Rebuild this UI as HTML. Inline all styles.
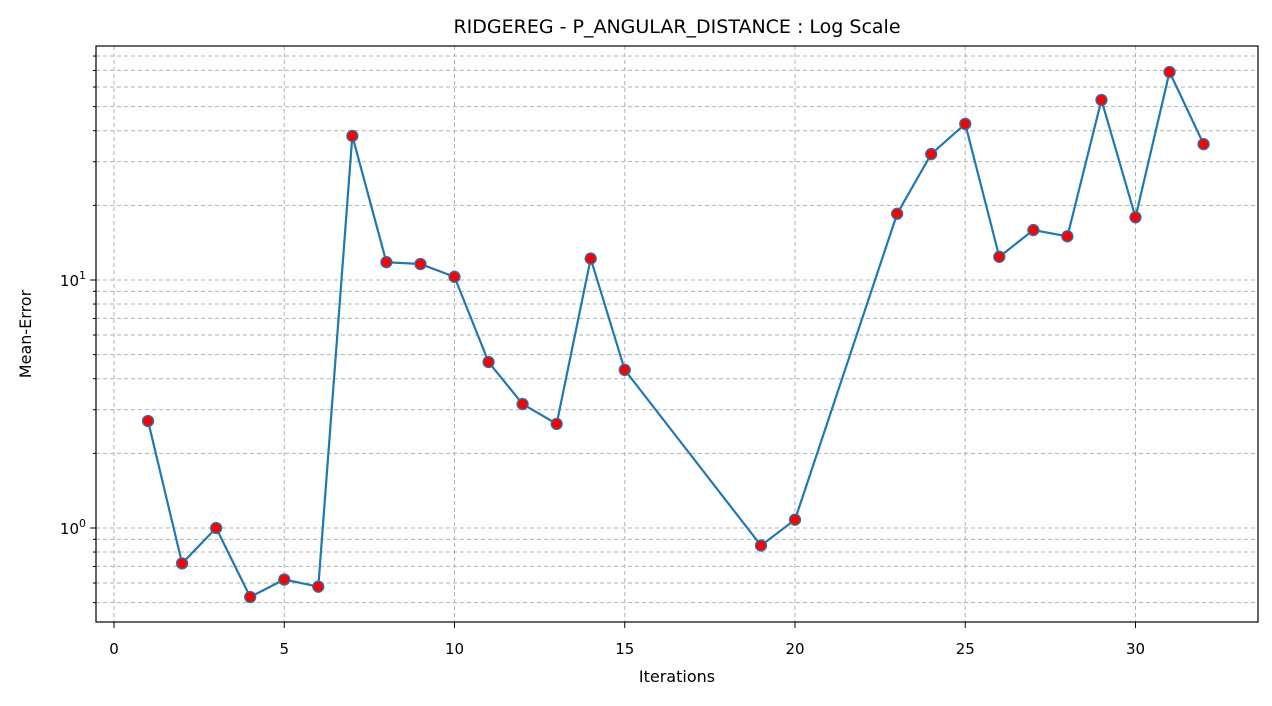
<!DOCTYPE html>
<html><head><meta charset="utf-8"><style>
body{margin:0;background:#fff;font-family:"Liberation Sans","DejaVu Sans",sans-serif;}
svg text{font-family:"DejaVu Sans","Liberation Sans",sans-serif;}
</style></head><body>
<svg id="chart" width="1272" height="701" xmlns="http://www.w3.org/2000/svg">
<rect width="1272" height="701" fill="#fff"/>
<g id="grid"></g>
<g id="series"></g>
<g id="axes"></g>
<text x="677" y="33" text-anchor="middle" font-size="19" fill="#000">RIDGEREG - P_ANGULAR_DISTANCE : Log Scale</text>
<text x="677" y="682" text-anchor="middle" font-size="16" fill="#000">Iterations</text>
<text transform="translate(31,334) rotate(-90)" text-anchor="middle" font-size="16" fill="#000">Mean-Error</text>
</svg>
<script>
const iterations=[1,2,3,4,5,6,7,8,9,10,11,12,13,14,15,19,20,23,24,25,26,27,28,29,30,31,32];
const meanError=[2.70,0.72,1.0,0.527,0.62,0.58,38.1,11.8,11.6,10.3,4.67,3.16,2.63,12.2,4.34,0.85,1.08,18.5,32.2,42.6,12.4,15.9,15.0,53.2,17.9,69,35.3];
const xTicks=[0,5,10,15,20,25,30];
const yMajor=[1,10];
const yMinor=[0.5,0.6,0.7,0.8,0.9,2,3,4,5,6,7,8,9,20,30,40,50,60,70,80];
const L=96,R=1258,T=46,B=622;
const X=v=>114+v*34.05;
const Y=v=>528-Math.log10(v)*248;
const NS='http://www.w3.org/2000/svg';
function mk(tag,attrs,parent){const e=document.createElementNS(NS,tag);for(const k in attrs)e.setAttribute(k,attrs[k]);parent.appendChild(e);return e;}
const grid=document.getElementById('grid'),ser=document.getElementById('series'),ax=document.getElementById('axes');
xTicks.forEach(t=>{
 const g=mk('line',{x1:X(t),x2:X(t),y1:T,y2:B,stroke:'#b0b0b0','stroke-width':1,'stroke-dasharray':'4,3'},grid);
 
 
 mk('line',{x1:X(t),x2:X(t),y1:B,y2:B+6,stroke:'#000'},ax);
 const tx=mk('text',{x:X(t),y:B+32,'text-anchor':'middle','font-size':15},ax);tx.textContent=t;
 
 
});
yMajor.concat(yMinor).forEach(v=>{
 const g=mk('line',{x1:L,x2:R,y1:Y(v),y2:Y(v),stroke:'#b0b0b0','stroke-width':1,'stroke-dasharray':'4,3'},grid);
 
 
 const major=yMajor.includes(v);
 mk('line',{x1:L-(major?6:3),x2:L,y1:Y(v),y2:Y(v),stroke:'#000'},ax);
});
yMajor.forEach(v=>{
 const tx=mk('text',{x:L-10,y:Y(v)+6,'text-anchor':'end','font-size':15},ax);
 tx.innerHTML='10<tspan dy="-7" font-size="11">'+Math.round(Math.log10(v))+'</tspan>';
 
 
});
const fr=mk('rect',{x:L,y:T,width:R-L,height:B-T,fill:'none',stroke:'#000','stroke-width':1.2},ax);


const pts=iterations.map((x,i)=>X(x)+','+Y(meanError[i])).join(' ');
const pl=mk('polyline',{points:pts,fill:'none',stroke:'#1f77b4','stroke-width':2.2},ser);


iterations.forEach((x,i)=>{
 const c=mk('circle',{cx:X(x),cy:Y(meanError[i]),r:5.5,fill:'#ff0000',stroke:'#1f77b4','stroke-width':1.3},ser);
 
 
});
</script>
</body></html>
